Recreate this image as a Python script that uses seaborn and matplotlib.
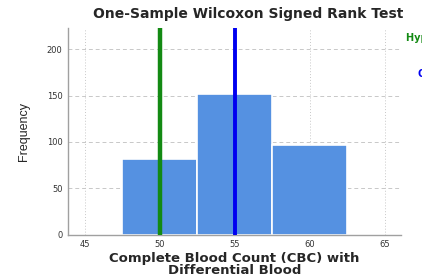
import numpy as np
import matplotlib
matplotlib.use("Agg")
import matplotlib.pyplot as plt
import seaborn as sns
import pandas as pd

# histogram bins (centres) and counts
bin_centers = [50, 55, 60]
counts = [82, 152, 97]
bin_edges = [47.5, 52.5, 57.5, 62.5]
hyp_median = 50
obs_median = 55
x_ticks = [45, 50, 55, 60, 65]
y_ticks = [0, 50, 100, 150, 200]

sns.set_style("white")
plt.rcParams['font.family'] = ['Liberation Sans', 'DejaVu Sans']

fig = plt.figure(figsize=(4.22, 2.78), dpi=100)
ax = fig.add_axes([0.161, 0.155, 0.789, 0.744])

df = pd.DataFrame({"cbc": bin_centers, "n": counts})
sns.histplot(data=df, x="cbc", weights="n", bins=bin_edges, ax=ax,
             color="#5591e1", alpha=1, edgecolor="white", linewidth=1.2, zorder=2)

ax.axvline(hyp_median, color="#138a13", lw=3.2, zorder=3)
ax.axvline(obs_median, color="#0000f0", lw=2.8, zorder=3)

ax.set_xlim(43.87, 66.07)
ax.set_ylim(0, 222.6)
ax.set_xticks(x_ticks)
ax.set_yticks(y_ticks)
ax.grid(axis="y", ls=(0, (4, 3)), color="#c8c8c8", lw=0.7, zorder=0)
ax.grid(axis="x", ls=(0, (1, 2)), color="#c8c8c8", lw=0.7, zorder=0)
ax.set_axisbelow(True)

for s in ["top", "right"]:
    ax.spines[s].set_visible(False)
for s in ["left", "bottom"]:
    ax.spines[s].set_color("#a0a0a0")
    ax.spines[s].set_linewidth(1.0)
ax.tick_params(axis="both", length=0, labelsize=6.5, labelcolor="#333333", pad=4)
for lab in ax.get_xticklabels() + ax.get_yticklabels():
    lab.set_family(["DejaVu Sans"])
    lab.set_fontsize(6)

ax.set_xlabel("Complete Blood Count (CBC) with\nDifferential Blood", fontsize=9.5,
              fontweight="bold", labelpad=2, linespacing=0.85,
              family=["DejaVu Sans"])
ax.set_ylabel("Frequency", fontsize=9, labelpad=12)

fig.text(0.589, 0.95, "One-Sample Wilcoxon Signed Rank Test", ha="center",
         va="center", fontsize=10, fontweight="bold", family=["DejaVu Sans"])
fig.text(0.962, 0.863, "Hypothesized Median", color="#138a13", fontsize=7,
         fontweight="bold", va="center", family=["DejaVu Sans"])
fig.text(0.99, 0.735, "Observed Median", color="#0000f0", fontsize=7,
         fontweight="bold", va="center", family=["DejaVu Sans"])

fig.savefig("out.png", dpi=100)
